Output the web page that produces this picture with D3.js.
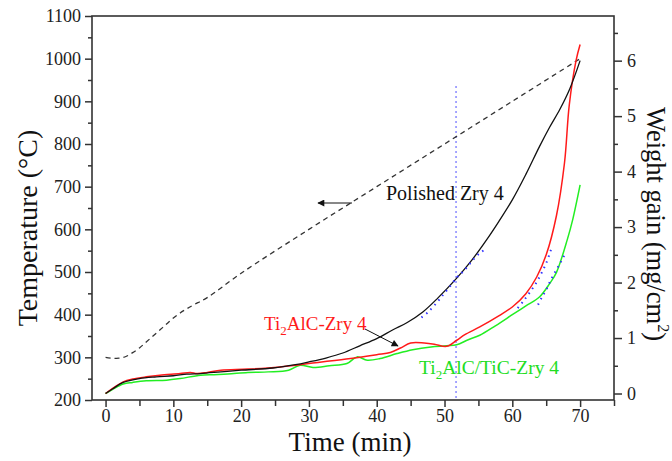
<!DOCTYPE html>
<html><head><meta charset="utf-8">
<script src="https://cdn.jsdelivr.net/npm/d3@7"></script>
<style>body{margin:0;background:#fff}svg{display:block}text{font-family:"Liberation Serif","Times New Roman",serif}</style>
</head><body><svg id="c" width="672" height="461"></svg>
<script>
// Temperature (left axis) – polished Zry 4 furnace program
const tempTime = [0,1,2,3,4,5,6,7,8,9,10,11,12,13,15,20,30,40,50,60,70];
const tempVal  = [300,298,298,302,311,322,336,350,364,378,392,404,414,423,440,497,600,700,800,900,1000];
// Weight gain (right axis)
const blackTime = [0,1,2.6,5,7.5,10,12,14,17,20,24.7,28,30,32.5,35,37.5,40,42.4,44.5,46.8,49,51.8,54,56.2,58,60,62,64,65.5,67,68.5,70];
const blackVal  = [0,0.08,0.2,0.27,0.3,0.32,0.35,0.36,0.39,0.42,0.46,0.52,0.57,0.64,0.73,0.86,0.99,1.15,1.28,1.47,1.72,2.08,2.40,2.77,3.1,3.49,3.95,4.45,4.8,5.12,5.5,6.0];
const redTime = [0,1,2.6,4,6,8,11,12.5,13.5,15,17,21,25.7,30,35.5,40,42,43.5,45,47,48.5,50.3,51.8,53,55.2,58,60,62,63.6,65,66.5,67.7,68.4,69.4,70];
const redVal  = [0,0.09,0.21,0.26,0.30,0.33,0.36,0.38,0.36,0.38,0.42,0.44,0.48,0.54,0.62,0.70,0.74,0.82,0.91,0.91,0.89,0.85,0.96,1.06,1.20,1.40,1.56,1.8,2.10,2.5,3.2,4.16,5.2,6.0,6.29];
const greenTime = [0,1,2.6,4,6,9,11,14,16,18,21,24,27,28.7,30.6,33,35.6,37.1,38.6,40.5,43,45.3,48,50.3,51.8,53.5,55.2,57.5,60,62,64,65.5,66.5,68.1,68.9,70];
const greenVal  = [0,0.07,0.17,0.2,0.23,0.24,0.27,0.33,0.34,0.35,0.38,0.39,0.42,0.51,0.47,0.50,0.54,0.66,0.60,0.63,0.72,0.79,0.84,0.86,0.88,0.97,1.05,1.22,1.42,1.58,1.74,1.98,2.18,2.77,3.13,3.76];
// Blue dotted fits
const fitBlackTime = [46.6,47.6,48.8,49.8,50.8,51.8,52.5,53.2,54.2,55.2,55.9];
const fitBlackVal  = [1.37,1.47,1.63,1.78,1.93,2.09,2.17,2.26,2.41,2.53,2.59];
const fitRedTime = [60.8,61.6,62.5,63.5,64.3,65.0,65.7];
const fitRedVal  = [1.54,1.66,1.81,1.99,2.17,2.35,2.59];
const fitGreenTime = [63.8,64.3,65.0,65.7,66.5,67.2,67.7];
const fitGreenVal  = [1.60,1.72,1.87,2.05,2.23,2.38,2.50];
const markerTime = 51.7;
const markerRange = [-0.117, 5.54];
const xTicks = [0,10,20,30,40,50,60,70];
const leftTicks = [200,300,400,500,600,700,800,900,1000,1100];
const rightTicks = [0,1,2,3,4,5,6];

const svg = d3.select('#c');
const L=92,R=614,T=16,B=400;
const x = d3.scaleLinear().domain([-2,75]).range([L,R]);
const yL = d3.scaleLinear().domain([200,1100]).range([B,T]);
const yR = d3.scaleLinear().domain([-0.117,6.805]).range([B,T]);
const axisCol = '#333';

svg.append('rect').attr('x',L).attr('y',T).attr('width',R-L).attr('height',B-T)
  .attr('fill','none').attr('stroke',axisCol).attr('stroke-width',1.6);

function styleAxis(g){
  g.selectAll('.domain').remove();
  g.selectAll('line').attr('stroke',axisCol).attr('stroke-width',1.5);
  g.selectAll('text').attr('font-size',18).attr('fill','#222');
}
svg.append('g').attr('transform',`translate(0,${B})`)
  .call(d3.axisBottom(x).tickValues(d3.range(5,76,10)).tickSize(6).tickFormat(''))
  .call(styleAxis);
svg.append('g').attr('transform',`translate(0,${B})`)
  .call(d3.axisBottom(x).tickValues(xTicks).tickSize(7).tickPadding(2).tickFormat(d3.format('d')))
  .call(styleAxis);
svg.append('g').attr('transform',`translate(${L},0)`)
  .call(d3.axisLeft(yL).tickValues(d3.range(250,1100,100)).tickSize(4).tickFormat(''))
  .call(styleAxis);
svg.append('g').attr('transform',`translate(${L},0)`)
  .call(d3.axisLeft(yL).tickValues(leftTicks).tickSize(7).tickPadding(4).tickFormat(d3.format('d')))
  .call(styleAxis);
svg.append('g').attr('transform',`translate(${R},0)`)
  .call(d3.axisRight(yR).tickValues(d3.range(0.5,6.6,1)).tickSize(4).tickFormat(''))
  .call(styleAxis);
svg.append('g').attr('transform',`translate(${R},0)`)
  .call(d3.axisRight(yR).tickValues(rightTicks).tickSize(8).tickPadding(5).tickFormat(d3.format('d')))
  .call(styleAxis);

svg.append('text').attr('x',350).attr('y',451).attr('text-anchor','middle')
  .attr('font-size',27).attr('fill','#111').text('Time (min)');
svg.append('text').attr('transform',`translate(37,${(T+B)/2+20}) rotate(-90)`).attr('text-anchor','middle')
  .attr('font-size',28).attr('fill','#111').text('Temperature (°C)');
const rt = svg.append('text').attr('transform',`translate(647,${(T+B)/2+16}) rotate(90)`).attr('text-anchor','middle')
  .attr('font-size',26.5).attr('fill','#111');
rt.append('tspan').text('Weight gain (mg/cm');
rt.append('tspan').attr('font-size',16).attr('dy',-11).text('2');
rt.append('tspan').attr('dy',11).text(')');

const zipd = (a,b)=>a.map((t,i)=>[t,b[i]]);
const lineL = d3.line().x(d=>x(d[0])).y(d=>yL(d[1])).curve(d3.curveCatmullRom);
const lineR = d3.line().x(d=>x(d[0])).y(d=>yR(d[1])).curve(d3.curveCatmullRom);

svg.append('line').attr('x1',x(markerTime)).attr('x2',x(markerTime))
  .attr('y1',yR(markerRange[1])).attr('y2',yR(markerRange[0]))
  .attr('stroke','#6b6bff').attr('stroke-width',1.6).attr('stroke-dasharray','1.5,3.5');

svg.append('path').attr('d',lineL(zipd(tempTime,tempVal))).attr('fill','none')
  .attr('stroke','#333').attr('stroke-width',1.3).attr('stroke-dasharray','5,4');
svg.append('path').attr('d',lineR(zipd(greenTime,greenVal))).attr('fill','none')
  .attr('stroke','#22ee22').attr('stroke-width',1.5);
svg.append('path').attr('d',lineR(zipd(redTime,redVal))).attr('fill','none')
  .attr('stroke','#ff1a1a').attr('stroke-width',1.5);
svg.append('path').attr('d',lineR(zipd(blackTime,blackVal))).attr('fill','none')
  .attr('stroke','#111').attr('stroke-width',1.3);

[[fitBlackTime,fitBlackVal],[fitRedTime,fitRedVal],[fitGreenTime,fitGreenVal]].forEach(([a,b])=>{
  svg.append('path').attr('d',lineR(zipd(a,b))).attr('fill','none')
    .attr('stroke','#3030ff').attr('stroke-width',2).attr('stroke-dasharray','1.5,4.5');
});

svg.append('defs').append('marker').attr('id','ah').attr('viewBox','0 0 10 10').attr('refX',9).attr('refY',5)
  .attr('markerWidth',9).attr('markerHeight',7).attr('orient','auto').attr('markerUnits','userSpaceOnUse')
  .append('path').attr('d','M0,0L10,5L0,10Z').attr('fill','#111');
svg.append('text').attr('x',386).attr('y',200).attr('font-size',20).attr('fill','#111').text('Polished Zry 4');
svg.append('line').attr('x1',352).attr('y1',203).attr('x2',318).attr('y2',203)
  .attr('stroke','#111').attr('stroke-width',1).attr('marker-end','url(#ah)');
const rl = svg.append('text').attr('x',264).attr('y',330).attr('font-size',19).attr('fill','#ff1a1a');
rl.append('tspan').text('Ti');
rl.append('tspan').attr('font-size',13).attr('dy',5).text('2');
rl.append('tspan').attr('dy',-5).text('AlC-Zry 4');
svg.append('line').attr('x1',365).attr('y1',329).attr('x2',398).attr('y2',346)
  .attr('stroke','#111').attr('stroke-width',1).attr('marker-end','url(#ah)');
const gl = svg.append('text').attr('x',419).attr('y',374).attr('font-size',19.5).attr('fill','#22dd22');
gl.append('tspan').text('Ti');
gl.append('tspan').attr('font-size',13).attr('dy',5).text('2');
gl.append('tspan').attr('dy',-5).text('AlC/TiC-Zry 4');
</script></body></html>
